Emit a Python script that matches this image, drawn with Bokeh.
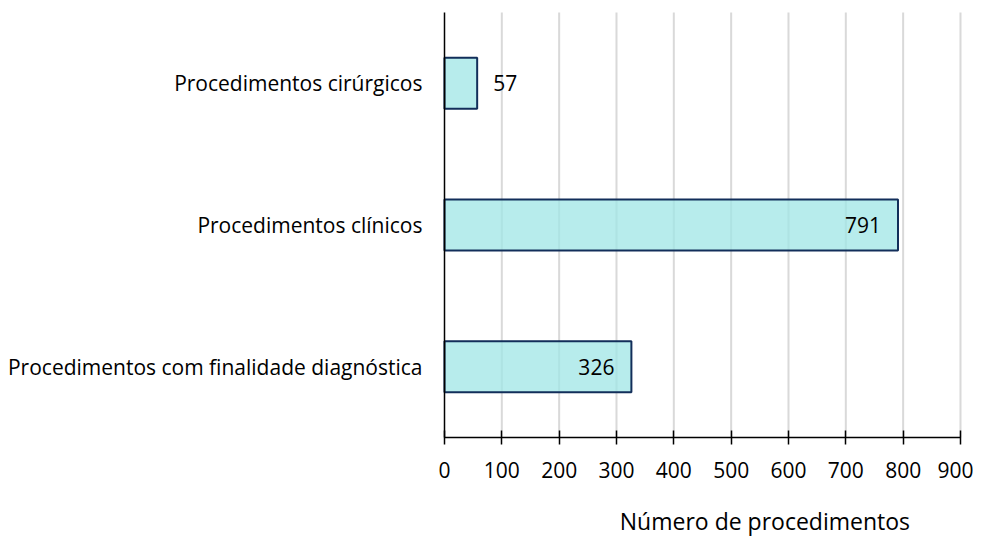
from bokeh.plotting import figure
from bokeh.models import Range1d, Label, ColumnDataSource, FixedTicker
from bokeh.core.properties import value
from bokeh.embed import file_html
from bokeh.resources import INLINE

categories = ["Procedimentos com finalidade diagnóstica", "Procedimentos clínicos", "Procedimentos cirúrgicos"]
counts = [326, 791, 57]
x_ticks = [0, 100, 200, 300, 400, 500, 600, 700, 800, 900]
x_title = "Número de procedimentos"

FONT = "Open Sans"
FS = "21px"

n = len(categories)
ypos = [i + 0.5 for i in range(n)]

# the frame covers the whole canvas; axes are pinned at x=0 / y=0
p = figure(width=973, height=538, output_backend="svg", toolbar_location=None,
           y_range=Range1d(-0.713, n + 0.0847), x_range=Range1d(-774.4, 922.7),
           min_border=0, min_border_left=0, min_border_right=0, min_border_top=0, min_border_bottom=0,
           outline_line_color=None, background_fill_color="white", border_fill_color="white")

p.xgrid.grid_line_color = None
p.ygrid.grid_line_color = None

# vertical gridlines, limited to the category area
p.segment(x0=x_ticks[1:], x1=x_ticks[1:], y0=[0] * (len(x_ticks) - 1), y1=[n] * (len(x_ticks) - 1),
          line_color="#D9D9D9", line_width=2)

src = ColumnDataSource(dict(y=ypos, val=counts,
                            lab=[str(v) for v in counts],
                            off=[-17 if v >= 100 else 16 for v in counts],
                            align=["right" if v >= 100 else "left" for v in counts]))

p.hbar(y="y", right="val", left=0, height=0.36, source=src,
       fill_color="#9FE6E6", fill_alpha=0.75, line_color="#122E5A", line_width=2)

p.text(x="val", y="y", text="lab", x_offset="off", text_align="align", text_baseline="middle",
       text_font=value(FONT), text_font_size=FS, text_color="#000000", source=src)

xa = p.xaxis[0]
xa.fixed_location = 0
xa.bounds = (x_ticks[0], x_ticks[-1])
xa.ticker = FixedTicker(ticks=x_ticks)
xa.axis_line_color = "black"; xa.axis_line_width = 1.5
xa.major_tick_line_color = "black"; xa.major_tick_line_width = 1.5
xa.major_tick_in = 7; xa.major_tick_out = 7
xa.minor_tick_line_color = None
xa.major_label_standoff = 18
xa.major_label_text_font = FONT; xa.major_label_text_font_size = FS; xa.major_label_text_color = "black"

ya = p.yaxis[0]
ya.fixed_location = 0
ya.bounds = (0, n)
ya.ticker = FixedTicker(ticks=ypos)
ya.major_label_overrides = {y: c for y, c in zip(ypos, categories)}
ya.axis_line_color = "black"; ya.axis_line_width = 1.5
ya.major_tick_line_color = None; ya.minor_tick_line_color = None
ya.major_tick_in = 0; ya.major_tick_out = 0
ya.major_label_standoff = 22
ya.major_label_text_font = FONT; ya.major_label_text_font_size = FS; ya.major_label_text_color = "black"

t = Label(x=812, y=-0.70, x_units="data", y_units="data", text=x_title,
          text_align="right", text_baseline="bottom",
          text_font=FONT, text_font_size="23px", text_color="black")
p.add_layout(t)

open("out.html", "w").write(file_html(p, INLINE))
